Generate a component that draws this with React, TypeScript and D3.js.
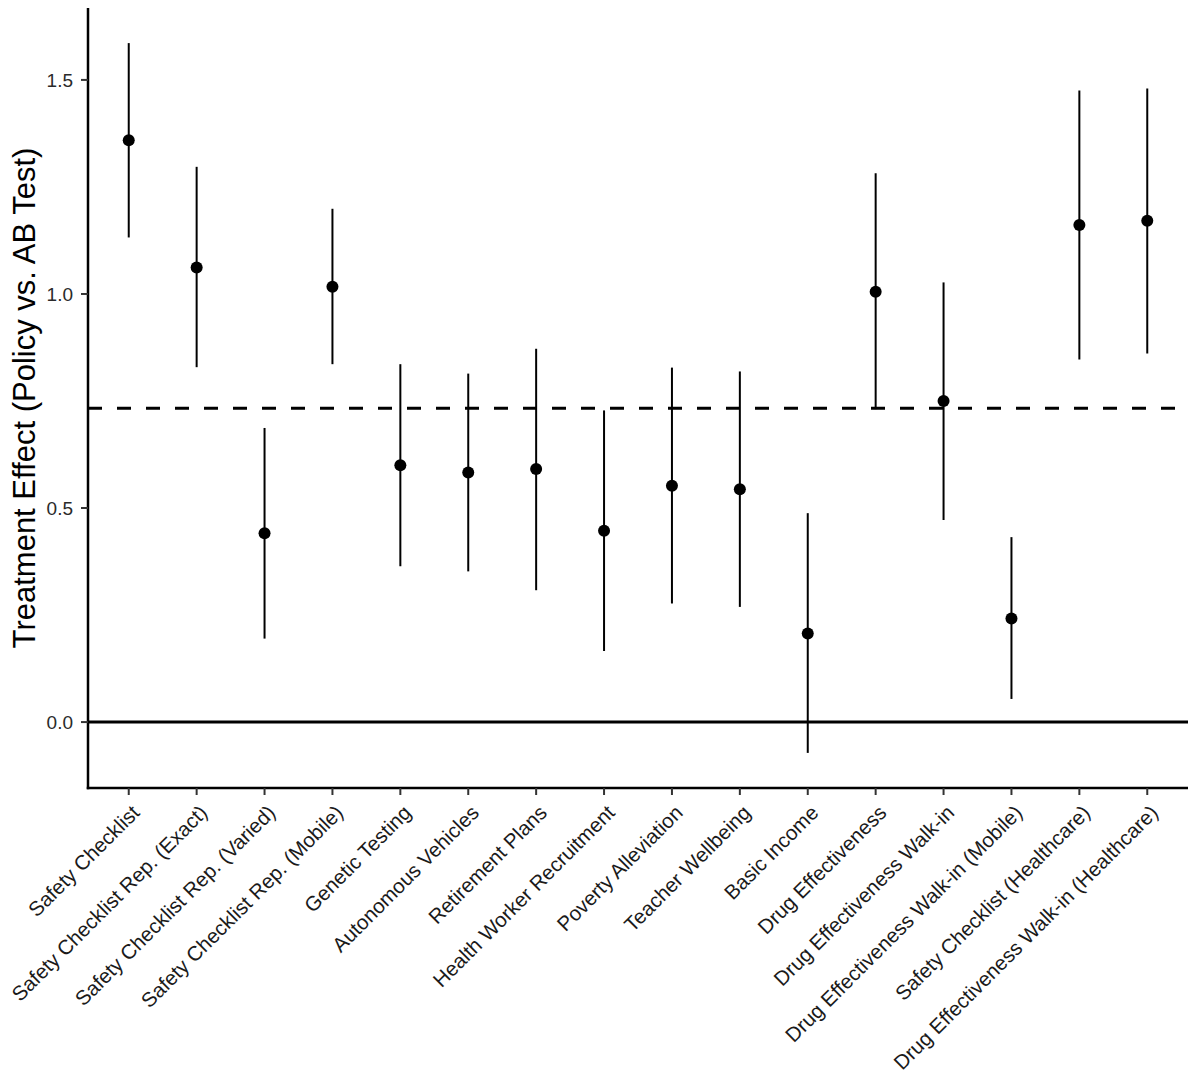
import React, { useRef, useEffect } from "react";
import * as d3 from "d3";

const categories = [
  "Safety Checklist",
  "Safety Checklist Rep. (Exact)",
  "Safety Checklist Rep. (Varied)",
  "Safety Checklist Rep. (Mobile)",
  "Genetic Testing",
  "Autonomous Vehicles",
  "Retirement Plans",
  "Health Worker Recruitment",
  "Poverty Alleviation",
  "Teacher Wellbeing",
  "Basic Income",
  "Drug Effectiveness",
  "Drug Effectiveness Walk-in",
  "Drug Effectiveness Walk-in (Mobile)",
  "Safety Checklist (Healthcare)",
  "Drug Effectiveness Walk-in (Healthcare)",
];

const estimates = [1.359, 1.062, 0.441, 1.017, 0.6, 0.583, 0.591, 0.447, 0.552, 0.544, 0.207, 1.005, 0.75, 0.242, 1.161, 1.171];
const lower = [1.132, 0.829, 0.195, 0.836, 0.364, 0.352, 0.308, 0.166, 0.277, 0.269, -0.072, 0.731, 0.472, 0.054, 0.847, 0.861];
const upper = [1.586, 1.297, 0.687, 1.199, 0.836, 0.814, 0.872, 0.728, 0.828, 0.819, 0.488, 1.282, 1.027, 0.432, 1.475, 1.48];

const yTicks = [0, 0.5, 1, 1.5];

const WIDTH = 1200;
const HEIGHT = 1086;
const FONT = "'Liberation Sans', Arial, Helvetica, sans-serif";

const EffectChart = () => {
  const svgRef = useRef(null);

  useEffect(() => {
    const svg = d3.select(svgRef.current);
    svg.selectAll("*").remove();

    const margin = { top: 8, right: 12, bottom: 298, left: 88 };
    const right = WIDTH - margin.right;
    const bottom = HEIGHT - margin.bottom;

    const x = d3
      .scalePoint()
      .domain(categories)
      .range([margin.left, right])
      .padding(0.6);

    const y = d3.scaleLinear().domain([-0.154, 1.668]).range([bottom, margin.top]);

    const data = categories.map((c, i) => ({
      name: c,
      est: estimates[i],
      lo: lower[i],
      hi: upper[i],
    }));

    // reference lines: zero and the mean effect
    svg
      .append("line")
      .attr("x1", margin.left)
      .attr("x2", right)
      .attr("y1", y(0))
      .attr("y2", y(0))
      .attr("stroke", "#000")
      .attr("stroke-width", 3);

    const meanEffect = d3.mean(estimates);
    svg
      .append("line")
      .attr("x1", margin.left)
      .attr("x2", right)
      .attr("y1", y(meanEffect))
      .attr("y2", y(meanEffect))
      .attr("stroke", "#000")
      .attr("stroke-width", 3)
      .attr("stroke-dasharray", "14,15");

    // error bars
    svg
      .selectAll(".ci")
      .data(data)
      .enter()
      .append("line")
      .attr("class", "ci")
      .attr("x1", (d) => x(d.name))
      .attr("x2", (d) => x(d.name))
      .attr("y1", (d) => y(d.lo))
      .attr("y2", (d) => y(d.hi))
      .attr("stroke", "#000")
      .attr("stroke-width", 2);

    svg
      .selectAll(".pt")
      .data(data)
      .enter()
      .append("circle")
      .attr("class", "pt")
      .attr("cx", (d) => x(d.name))
      .attr("cy", (d) => y(d.est))
      .attr("r", 6)
      .attr("fill", "#000");

    // y axis
    const yAxis = svg.append("g");
    yAxis
      .append("line")
      .attr("x1", margin.left)
      .attr("x2", margin.left)
      .attr("y1", margin.top)
      .attr("y2", bottom + 1.25)
      .attr("stroke", "#000")
      .attr("stroke-width", 2.5);
    yAxis
      .selectAll(".ytick")
      .data(yTicks)
      .enter()
      .append("line")
      .attr("x1", margin.left - 7)
      .attr("x2", margin.left)
      .attr("y1", (d) => y(d))
      .attr("y2", (d) => y(d))
      .attr("stroke", "#333")
      .attr("stroke-width", 2);
    yAxis
      .selectAll(".ylabel")
      .data(yTicks)
      .enter()
      .append("text")
      .attr("x", margin.left - 15)
      .attr("y", (d) => y(d))
      .attr("dy", "0.36em")
      .attr("text-anchor", "end")
      .attr("font-family", FONT)
      .attr("font-size", 19)
      .attr("fill", "#2a2a2a")
      .text((d) => d3.format(".1f")(d));

    // x axis
    const xAxis = svg.append("g");
    xAxis
      .append("line")
      .attr("x1", margin.left - 1.25)
      .attr("x2", right)
      .attr("y1", bottom)
      .attr("y2", bottom)
      .attr("stroke", "#000")
      .attr("stroke-width", 2.5);
    xAxis
      .selectAll(".xtick")
      .data(categories)
      .enter()
      .append("line")
      .attr("x1", (d) => x(d))
      .attr("x2", (d) => x(d))
      .attr("y1", bottom)
      .attr("y2", bottom + 7)
      .attr("stroke", "#333")
      .attr("stroke-width", 2);
    xAxis
      .selectAll(".xlabel")
      .data(categories)
      .enter()
      .append("text")
      .attr("transform", (d) => `translate(${x(d) + 12},${bottom + 26}) rotate(-45)`)
      .attr("text-anchor", "end")
      .attr("font-family", FONT)
      .attr("font-size", 20.5)
      .attr("fill", "#1a1a1a")
      .text((d) => d);

    svg
      .append("text")
      .attr("transform", `translate(35,${(margin.top + bottom) / 2}) rotate(-90)`)
      .attr("text-anchor", "middle")
      .attr("font-family", FONT)
      .attr("font-size", 31)
      .attr("fill", "#000")
      .text("Treatment Effect (Policy vs. AB Test)");
  }, []);

  return <svg ref={svgRef} width={WIDTH} height={HEIGHT} style={{ display: "block", background: "#fff" }} />;
};

export default function App() {
  return (
    <div style={{ position: "absolute", left: 0, top: 0 }}>
      <EffectChart />
    </div>
  );
}
